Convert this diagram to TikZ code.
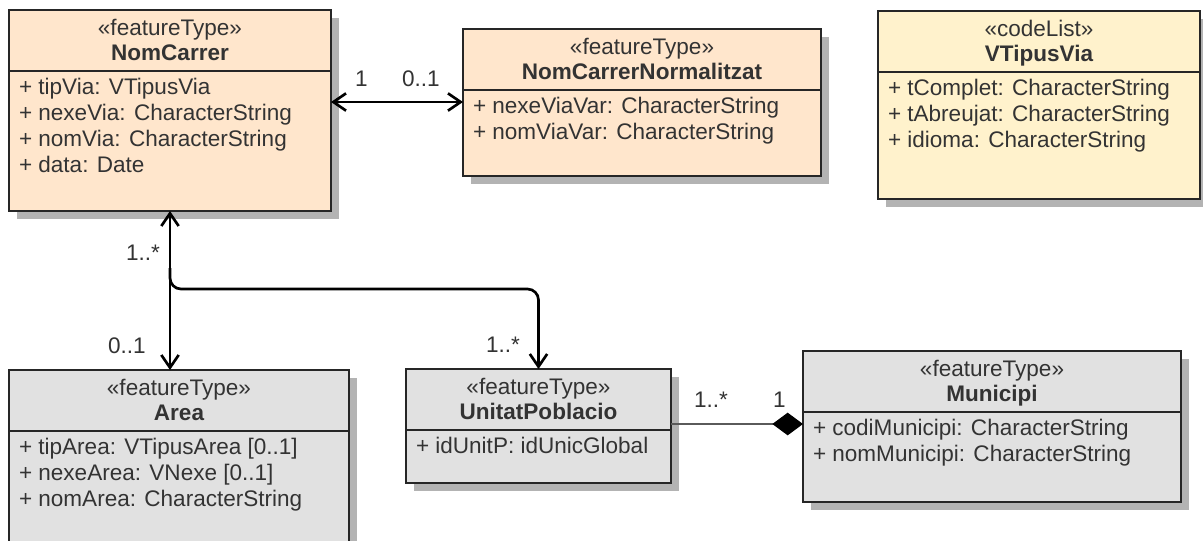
\documentclass[tikz,border=0pt]{standalone}
\usepackage{fontspec}
\setmainfont{Liberation Sans}
\usetikzlibrary{arrows.meta,shadows,calc}
\definecolor{peach}{HTML}{FFE6CC}
\definecolor{cream}{HTML}{FFF2CC}
\definecolor{greyfill}{HTML}{E1E1E1}
\definecolor{shadowc}{HTML}{B3B3B3}
\definecolor{linec}{HTML}{262626}
\definecolor{txtc}{HTML}{333333}
\definecolor{compc}{HTML}{5A5A5A}
\newcommand\umlfont{\fontsize{16.9pt}{19pt}\selectfont}
\tikzset{
  cls/.style={draw=linec, line width=1.1pt, anchor=north west, inner sep=0pt, outer sep=0pt,
    drop shadow={shadow xshift=6pt, shadow yshift=-6pt, fill=shadowc, opacity=1}},
  sepline/.style={draw=linec, line width=1.1pt},
  txt/.style={inner sep=0pt, outer sep=0pt, text=txtc, font=\umlfont},
  mult/.style={txt, anchor=base west},
  barb/.tip={Straight Barb[length=9.5pt,width=13pt]},
  diam/.tip={Diamond[length=23pt,width=17pt,fill=black,color=black]},
  assoc/.style={draw=black, line width=2pt},
  complink/.style={draw=compc, line width=1.4pt},
}
\newcommand\umlbox[8]{%
  \node[cls, fill=#6, minimum width={#4*0.75pt}, minimum height={#5*0.75pt}] (#1) at (#2,#3) {};
  \draw[sepline] ([yshift=-45.75pt]#1.north west) -- ([yshift=-45.75pt]#1.north east);
  \node[txt, anchor=base] (#1-st) at ([yshift=-18.75pt]#1.north) {«#7»};
  \node[txt, anchor=base] (#1-nm) at ([yshift=-37.5pt]#1.north) {\bfseries #8};
}
\newcommand\umlattr[4]{%
  \node[txt, anchor=base west] (#1) at ([xshift=7.5pt, yshift={-(84+26*#3)*0.75pt}]#2.north west) {#4};
}
\begin{document}
\begin{tikzpicture}[x=0.75pt, y=-0.75pt]
\useasboundingbox (0,0) rectangle (1203,540);
\clip (0,0) rectangle (1203,540);
\fill[white] (0,0) rectangle (1203,540);

% classes
\umlbox{NomCarrer}{9}{10}{322}{201}{peach}{featureType}{NomCarrer}
\umlattr{nc1}{NomCarrer}{0}{+ tipVia: VTipusVia}
\umlattr{nc2}{NomCarrer}{1}{+ nexeVia: CharacterString}
\umlattr{nc3}{NomCarrer}{2}{+ nomVia: CharacterString}
\umlattr{nc4}{NomCarrer}{3}{+ data: Date}

\umlbox{NCN}{463}{29}{358}{147}{peach}{featureType}{NomCarrerNormalitzat}
\umlattr{ncn1}{NCN}{0}{+ nexeViaVar: CharacterString}
\umlattr{ncn2}{NCN}{1}{+ nomViaVar: CharacterString}

\umlbox{VTipusVia}{878}{11}{322}{188}{cream}{codeList}{VTipusVia}
\umlattr{vt1}{VTipusVia}{0}{+ tComplet: CharacterString}
\umlattr{vt2}{VTipusVia}{1}{+ tAbreujat: CharacterString}
\umlattr{vt3}{VTipusVia}{2}{+ idioma: CharacterString}

\umlbox{Area}{9}{370}{340}{190}{greyfill}{featureType}{Area}
\umlattr{ar1}{Area}{0}{+ tipArea: VTipusArea [0..1]}
\umlattr{ar2}{Area}{1}{+ nexeArea: VNexe [0..1]}
\umlattr{ar3}{Area}{2}{+ nomArea: CharacterString}

\umlbox{UnitatPoblacio}{406}{369}{265}{114}{greyfill}{featureType}{UnitatPoblacio}
\umlattr{up1}{UnitatPoblacio}{0}{+ idUnitP: idUnicGlobal}

\umlbox{Municipi}{803}{351}{378}{151}{greyfill}{featureType}{Municipi}
\umlattr{mu1}{Municipi}{0}{+ codiMunicipi: CharacterString}
\umlattr{mu2}{Municipi}{1}{+ nomMunicipi: CharacterString}

% connectors
\draw[assoc, barb-barb] ([yshift=-69pt]NomCarrer.north east) -- ([yshift=-69pt]NomCarrer.north east -| NCN.west);
\draw[assoc, barb-barb] (NomCarrer.south) -- (NomCarrer.south |- Area.north);
\coordinate (fork) at (NomCarrer.south |- 0,268);
\draw[assoc, rounded corners=8.25pt, -barb] (fork) -- (NomCarrer.south |- 0,289) -- (UnitatPoblacio.north |- 0,289) -- (UnitatPoblacio.north);
\draw[complink, -diam] (UnitatPoblacio.east |- 0,424) -- (Municipi.west |- 0,424);

% multiplicities
\node[mult] (m1) at (355,86) {1};
\node[mult] (m2) at (402,86) {0..1};
\node[mult] (m3) at (126,260) {1..*};
\node[mult] (m4) at (108,353) {0..1};
\node[mult] (m5) at (486,352) {1..*};
\node[mult] (m6) at (694,407) {1..*};
\node[mult] (m7) at (773,407) {1};
\end{tikzpicture}
\end{document}
